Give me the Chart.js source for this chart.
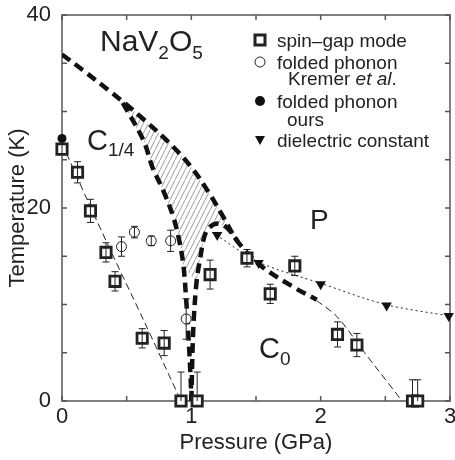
<!DOCTYPE html>
<html>
<head>
<meta charset="utf-8">
<script src="https://cdn.jsdelivr.net/npm/chart.js@4.4.0/dist/chart.umd.min.js"></script>
<style>
  html, body { margin: 0; padding: 0; background: #fff; overflow: hidden; }
  canvas { display: block; }
</style>
</head>
<body>
<canvas id="phase" width="455" height="460"></canvas>
<script>
// ------------------ data ---------------------------------------//
// spin-gap mode (open squares)
const spinP   = [0, 0.12, 0.22, 0.34, 0.41, 0.62, 0.79, 0.92, 1.045, 1.145, 1.43, 1.61, 1.80, 2.13, 2.28, 2.71, 2.75];
const spinT   = [26.1, 23.7, 19.7, 15.4, 12.4, 6.5, 6.0, 0, 0, 13.1, 14.8, 11.1, 14.0, 6.9, 5.8, 0, 0];
const spinErr = [0.5, 1.1, 1.2, 1.0, 1.0, 1.0, 1.3, 3.0, 3.0, 1.5, 0.9, 1.0, 1.0, 1.3, 1.2, 2.2, 2.2];

// folded phonon, Kremer et al. (open circles)
const kremerP   = [0.46, 0.56, 0.69, 0.84, 0.96];
const kremerT   = [16.0, 17.5, 16.6, 16.6, 8.5];
const kremerErr = [1.0, 0.6, 0.5, 1.1, 2.1];

// folded phonon, ours (filled circle)
const oursP = [0];
const oursT = [27.2];

// dielectric constant (down triangles)
const dielP = [1.2, 1.52, 2.0, 2.51, 2.99];
const dielT = [17.2, 14.3, 12.1, 9.9, 8.8];

// phase boundaries
const upperP = [0, 0.16, 0.37, 0.5, 0.63, 0.81, 0.99, 1.14, 1.25, 1.36, 1.53, 1.79, 1.97];
const upperT = [35.9, 34.3, 32.1, 30.7, 29.2, 27.0, 24.4, 21.5, 19.0, 16.5, 14.1, 11.8, 10.5];
const leftP  = [0.47, 0.63, 0.70, 0.78, 0.86, 0.91, 0.94, 0.96, 0.975, 0.995, 1.0];
const leftT  = [30.9, 27.0, 24.2, 21.9, 19.1, 16.4, 13.9, 10.5, 7.4, 2.2, 0];
const innerP = [1.0, 1.015, 1.04, 1.07, 1.1, 1.14, 1.21, 1.28, 1.36];
const innerT = [0, 7.4, 12.3, 14.9, 17.0, 18.0, 18.4, 17.9, 16.5];
const c0LeftP  = [0, 0.2, 0.4, 0.63, 0.92];
const c0LeftT  = [26.7, 20.7, 14.9, 8.4, 0];
const c0RightP = [1.97, 2.13, 2.34, 2.63];
const c0RightT = [10.4, 8.7, 5.0, 0];
const dielFitP = [1.16, 1.52, 2.0, 2.5, 3.0];
const dielFitT = [17.5, 14.4, 12.2, 10.0, 8.8];

const xTicks = [0, 1, 2, 3];
const yTicks = [0, 20, 40];

const FONT = '"Liberation Sans", Arial, Helvetica, sans-serif';
const INK = '#222';

function pts(px, py) {
    return px.map((p, i) => ({ x: p, y: py[i] }));
}

// hatched region: left branch down, inner branch up, upper curve back
const hatch = pts(leftP, leftT).filter(d => d.y >= 12)
    .concat(pts(innerP, innerT).filter(d => d.y >= 12))
    .concat(pts(upperP, upperT).filter(d => d.x >= 0.47 && d.x <= 1.36).reverse());

// gray diagonal hatch pattern
const pc = document.createElement('canvas');
pc.width = 5; pc.height = 10;
const pctx = pc.getContext('2d');
pctx.strokeStyle = '#9a9a9a';
pctx.lineWidth = 1;
pctx.beginPath();
pctx.moveTo(-5, 20); pctx.lineTo(10, -10);
pctx.stroke();
const hatchPattern = document.getElementById('phase').getContext('2d').createPattern(pc, 'repeat');

const thick = { type: 'line', borderColor: '#111', borderWidth: 4.5, borderDash: [10, 6], pointRadius: 0, tension: 0.35, fill: false, order: 5 };
const thin  = { type: 'line', borderColor: '#222', borderWidth: 1, borderDash: [7, 4], pointRadius: 0, tension: 0.3, fill: false, order: 6 };

// ------------------ plugins -------------------//
const errorBars = {
    id: 'errorBars',
    afterDatasetsDraw(chart) {
        const { ctx, scales: { x, y } } = chart;
        ctx.save();
        ctx.strokeStyle = '#222';
        ctx.lineWidth = 1;
        chart.data.datasets.forEach(ds => {
            if (!ds.errs) return;
            ds.data.forEach((d, i) => {
                const e = ds.errs[i];
                const px = x.getPixelForValue(d.x);
                const lo = Math.max(0, d.y - e);
                const yTop = y.getPixelForValue(d.y + e);
                const yBot = y.getPixelForValue(lo);
                ctx.beginPath();
                ctx.moveTo(px, yTop); ctx.lineTo(px, yBot);
                ctx.moveTo(px - 3.5, yTop); ctx.lineTo(px + 3.5, yTop);
                if (lo > 0) { ctx.moveTo(px - 3.5, yBot); ctx.lineTo(px + 3.5, yBot); }
                ctx.stroke();
            });
        });
        ctx.restore();
    }
};

// box, inward ticks and the x tick labels
const frame = {
    id: 'frame',
    beforeDatasetsDraw(chart) {
        const { ctx, chartArea: a, scales: { x, y } } = chart;
        ctx.save();
        ctx.strokeStyle = '#555';
        ctx.lineWidth = 1.5;
        ctx.strokeRect(a.left, a.top, a.right - a.left, a.bottom - a.top);
        ctx.beginPath();
        x.ticks.forEach(t => {
            const px = x.getPixelForValue(t.value);
            ctx.moveTo(px, a.bottom); ctx.lineTo(px, a.bottom - 5);
            ctx.moveTo(px, a.top); ctx.lineTo(px, a.top + 5);
        });
        y.ticks.forEach(t => {
            const py = y.getPixelForValue(t.value);
            ctx.moveTo(a.left, py); ctx.lineTo(a.left + 5, py);
            ctx.moveTo(a.right, py); ctx.lineTo(a.right - 5, py);
        });
        ctx.stroke();

        ctx.fillStyle = INK;
        ctx.font = '22px ' + FONT;
        ctx.textAlign = 'center';
        ctx.textBaseline = 'alphabetic';
        xTicks.forEach(v => ctx.fillText(String(v), x.getPixelForValue(v), a.bottom + 22));
        ctx.restore();
    }
};

function subText(ctx, parts, x, y) {
    // parts: [text, size, dy, italic]
    parts.forEach(([t, size, dy, it]) => {
        ctx.font = (it ? 'italic ' : '') + size + 'px ' + FONT;
        ctx.fillText(t, x, y + dy);
        x += ctx.measureText(t).width;
    });
}

const labels = {
    id: 'labels',
    afterDraw(chart) {
        const { ctx } = chart;
        ctx.save();
        ctx.fillStyle = INK;
        ctx.textBaseline = 'alphabetic';
        ctx.textAlign = 'left';
        subText(ctx, [['NaV', 30, 0], ['2', 19, 8], ['O', 30, 0], ['5', 19, 8]], 100, 51);
        subText(ctx, [['C', 29, 0], ['1/4', 19, 6]], 87, 150);
        subText(ctx, [['P', 28, 0]], 310, 229);
        subText(ctx, [['C', 29, 0], ['0', 19, 7]], 259, 358);

        // legend
        ctx.fillStyle = '#fff';
        ctx.strokeStyle = '#222';
        ctx.lineWidth = 3;
        ctx.fillRect(255, 35, 10, 10);
        ctx.strokeRect(255, 35, 10, 10);
        ctx.lineWidth = 1;
        ctx.beginPath(); ctx.arc(260, 62, 5, 0, 2 * Math.PI); ctx.fill(); ctx.stroke();
        ctx.fillStyle = '#111';
        ctx.beginPath(); ctx.arc(260, 101, 5, 0, 2 * Math.PI); ctx.fill();
        ctx.beginPath(); ctx.moveTo(255, 136); ctx.lineTo(265, 136); ctx.lineTo(260, 145); ctx.closePath(); ctx.fill();

        ctx.fillStyle = INK;
        subText(ctx, [['spin\u2013gap mode', 19, 0]], 277, 47);
        subText(ctx, [['folded phonon', 19, 0]], 277, 69);
        subText(ctx, [['Kremer ', 19, 0], ['et al', 19, 0, true], ['.', 19, 0]], 288, 85);
        subText(ctx, [['folded phonon', 19, 0]], 277, 108);
        subText(ctx, [['ours', 19, 0]], 287, 126);
        subText(ctx, [['dielectric constant', 19, 0]], 277, 147);
        ctx.restore();
    }
};

// ------------------ chart -------------------//
const phaseChart = new Chart(document.getElementById('phase'), {
    type: 'scatter',
    data: {
        datasets: [
            {
                label: 'spin-gap mode', data: pts(spinP, spinT), errs: spinErr,
                pointStyle: 'rect', pointRadius: 7.3, borderWidth: 2.8,
                borderColor: '#222', backgroundColor: '#fff', clip: false, order: 1
            },
            {
                label: 'folded phonon Kremer et al.', data: pts(kremerP, kremerT), errs: kremerErr,
                pointStyle: 'circle', pointRadius: 5, borderWidth: 1,
                borderColor: '#222', backgroundColor: '#fff', clip: false, order: 1
            },
            {
                label: 'folded phonon ours', data: pts(oursP, oursT),
                pointStyle: 'circle', pointRadius: 4.5, borderWidth: 0,
                backgroundColor: '#111', clip: false, order: 2
            },
            {
                label: 'dielectric constant', data: pts(dielP, dielT),
                pointStyle: 'triangle', rotation: 180, pointRadius: 6, borderWidth: 0,
                backgroundColor: '#111', clip: false, order: 1
            },
            Object.assign({}, thick, { label: 'upper', data: pts(upperP, upperT) }),
            Object.assign({}, thick, { label: 'left', data: pts(leftP, leftT) }),
            Object.assign({}, thick, { label: 'inner', data: pts(innerP, innerT) }),
            Object.assign({}, thin, { label: 'c0 left', data: pts(c0LeftP, c0LeftT) }),
            Object.assign({}, thin, { label: 'c0 right', data: pts(c0RightP, c0RightT) }),
            Object.assign({}, thin, { label: 'dielectric fit', data: pts(dielFitP, dielFitT), borderDash: [2, 3] }),
            {
                type: 'line', label: 'hatch', data: hatch, borderWidth: 0, pointRadius: 0,
                tension: 0, fill: 'shape', backgroundColor: hatchPattern, order: 10
            }
        ]
    },
    options: {
        responsive: false,
        animation: false,
        events: [],
        layout: { autoPadding: false, padding: { top: 15, right: 5, left: 0, bottom: 0 } },
        plugins: {
            legend: { display: false },
            tooltip: { enabled: false }
        },
        scales: {
            x: {
                type: 'linear', min: 0, max: 3,
                grid: { display: false },
                border: { display: false },
                afterBuildTicks: s => { s.ticks = [0, 0.5, 1, 1.5, 2, 2.5, 3].map(v => ({ value: v })); },
                ticks: { display: false },
                title: {
                    display: true, text: 'Pressure (GPa)', color: INK,
                    font: { family: FONT, size: 22 }, padding: { bottom: 4, top: 0 }
                },
                afterFit: s => { s.height = 59; }
            },
            y: {
                type: 'linear', min: 0, max: 40,
                grid: { display: false },
                border: { display: false },
                afterBuildTicks: s => { s.ticks = [0, 5, 10, 15, 20, 25, 30, 35, 40].map(v => ({ value: v })); },
                ticks: {
                    autoSkip: false, padding: 3, color: INK,
                    font: { family: FONT, size: 22 },
                    callback: v => yTicks.includes(v) ? String(v) : ''
                },
                title: {
                    display: true, text: 'Temperature (K)', color: INK,
                    font: { family: FONT, size: 22 }, padding: { top: 5, bottom: 0 }
                },
                afterFit: s => { s.width = 62; s.paddingTop = 0; s.paddingBottom = 0; }
            }
        }
    },
    plugins: [frame, errorBars, labels]
});
</script>
</body>
</html>
